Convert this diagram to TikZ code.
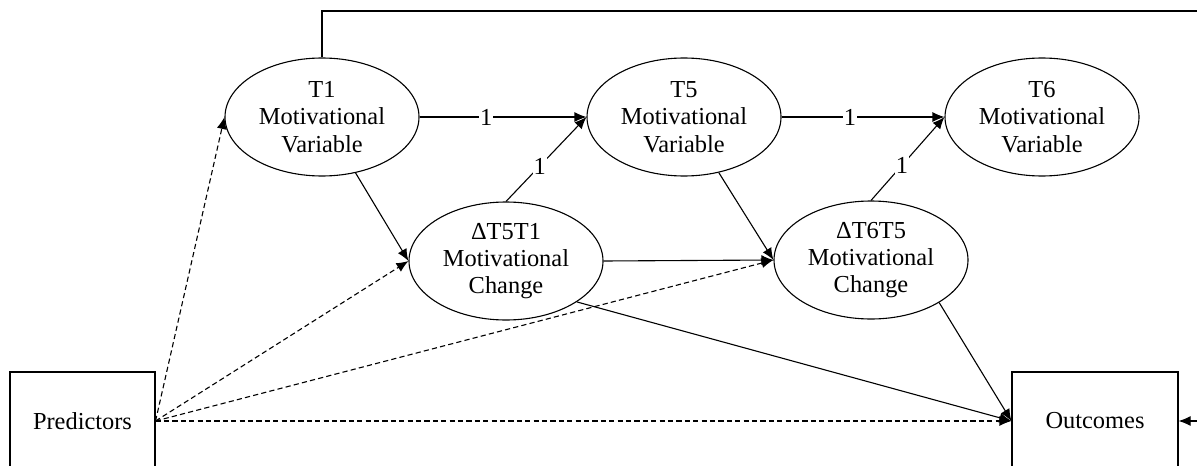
\documentclass[tikz,border=0pt]{standalone}
\usepackage{fontspec}
\setmainfont{Liberation Serif}
\usetikzlibrary{shapes.geometric,arrows.meta}
\begin{document}
\begin{tikzpicture}[x=0.5pt,y=-0.5pt,
  font=\fontsize{12.2pt}{13.6pt}\selectfont,
  latent/.style={ellipse,draw,line width=0.55pt,align=center,inner sep=0pt,
    minimum width=97pt,minimum height=59pt},
  obsbox/.style={rectangle,draw,line width=0.55pt,inner sep=0pt},
  path/.style={line width=0.55pt,-{Latex[length=6pt,width=5pt]}},
  dpath/.style={path,dash pattern=on 2.6pt off 1.6pt},
  one/.style={fill=white,inner sep=0.5pt}]
  \useasboundingbox (0,0) rectangle (1197,465);
  \clip (0,0) rectangle (1197,465);

  % latent motivational variables
  \node[latent] (T1) at (322,117) {T1\\Motivational\\Variable};
  \node[latent] (T5) at (684,117) {T5\\Motivational\\Variable};
  \node[latent] (T6) at (1042,117) {T6\\Motivational\\Variable};
  % latent change scores
  \node[latent] (D1) at (506,261) {ΔT5T1\\Motivational\\Change};
  \node[latent] (D2) at (871,260) {ΔT6T5\\Motivational\\Change};

  % observed blocks
  \node[obsbox,minimum width=72.5pt,minimum height=49pt] (pred) at (82.5,421) {Predictors};
  \node[obsbox,minimum width=83pt,minimum height=49pt] (out) at (1095,421) {Outcomes};

  % unit-weight paths
  \draw[path] (T1.east) -- node[one,pos=0.4] {1} (T5.west);
  \draw[path] (T5.east) -- node[one,pos=0.42] {1} (T6.west);
  \draw[path] (D1.north) -- node[one,pos=0.42] {1} (T5.west);
  \draw[path] (D2.north) -- node[one,pos=0.42] {1} (T6.west);

  % change paths
  \draw[path] (T1) -- (D1.west);
  \draw[path] (T5) -- (D2.west);
  \draw[path] (D1.east) -- (D2.west);
  \draw[path] (D1.-30) -- (out.west);
  \draw[path] (D2.-32) -- (out.west);

  % predictor paths
  \draw[dpath] (pred.east) -- (T1.west);
  \draw[dpath] (pred.east) -- (D1.west);
  \draw[dpath] (pred.east) -- (D2.west);
  \draw[dpath] (pred.east) -- (out.west);

  % T1 to outcomes, routed over the top
  \coordinate (topR) at (1230,11);
  \coordinate (sideR) at (1230,421);
  \draw[line width=0.7pt] (T1.north) |- (topR);
  \draw[path] (sideR) -- (out.east);
\end{tikzpicture}
\end{document}
